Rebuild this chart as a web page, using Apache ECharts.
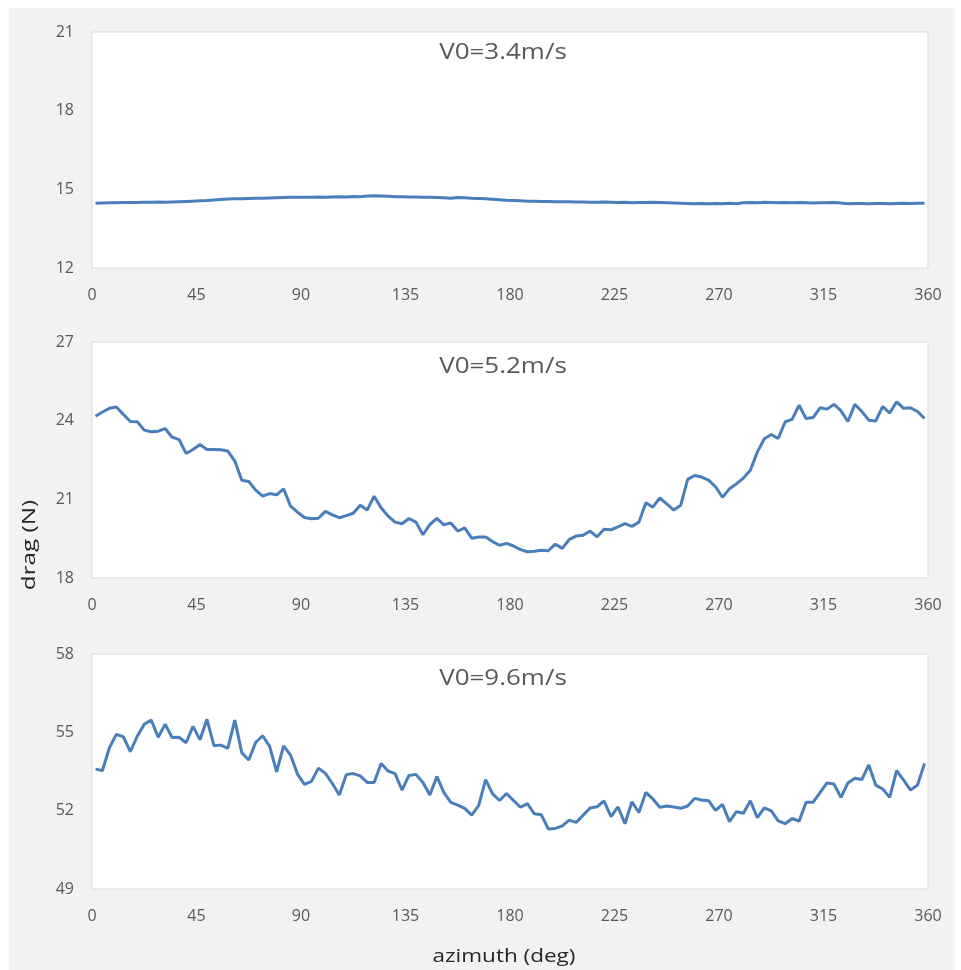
<!DOCTYPE html>
<html>
<head>
<meta charset="utf-8">
<script src="https://cdn.jsdelivr.net/npm/echarts@6/dist/echarts.min.js"></script>
<style>
  html, body { margin: 0; padding: 0; background: #ffffff; }
  #chart { position: absolute; left: 9px; top: 8px; width: 946px; height: 962px; }
</style>
</head>
<body>
<div id="chart"></div>
<script>
// azimuth (deg) of each sample
const azimuth = [
  1.5,4.5,7.5,10.5,13.5,16.5,19.5,22.5,25.5,28.5,
  31.5,34.5,37.5,40.5,43.5,46.5,49.5,52.5,55.5,58.5,
  61.5,64.5,67.5,70.5,73.5,76.5,79.5,82.5,85.5,88.5,
  91.5,94.5,97.5,100.5,103.5,106.5,109.5,112.5,115.5,118.5,
  121.5,124.5,127.5,130.5,133.5,136.5,139.5,142.5,145.5,148.5,
  151.5,154.5,157.5,160.5,163.5,166.5,169.5,172.5,175.5,178.5,
  181.5,184.5,187.5,190.5,193.5,196.5,199.5,202.5,205.5,208.5,
  211.5,214.5,217.5,220.5,223.5,226.5,229.5,232.5,235.5,238.5,
  241.5,244.5,247.5,250.5,253.5,256.5,259.5,262.5,265.5,268.5,
  271.5,274.5,277.5,280.5,283.5,286.5,289.5,292.5,295.5,298.5,
  301.5,304.5,307.5,310.5,313.5,316.5,319.5,322.5,325.5,328.5,
  331.5,334.5,337.5,340.5,343.5,346.5,349.5,352.5,355.5,358.5
];

// drag (N), V0 = 3.4 m/s
const drag34 = [
  14.47,14.48,14.49,14.49,14.50,14.50,14.50,14.51,14.51,14.52,
  14.51,14.52,14.53,14.54,14.55,14.56,14.57,14.59,14.61,14.63,
  14.64,14.64,14.65,14.66,14.66,14.67,14.68,14.69,14.70,14.70,
  14.70,14.70,14.71,14.70,14.71,14.72,14.71,14.73,14.72,14.75,
  14.76,14.75,14.74,14.72,14.72,14.71,14.71,14.70,14.70,14.69,
  14.68,14.66,14.69,14.68,14.66,14.65,14.64,14.62,14.60,14.58,
  14.57,14.56,14.55,14.55,14.54,14.54,14.53,14.53,14.53,14.52,
  14.52,14.51,14.51,14.52,14.51,14.50,14.51,14.49,14.50,14.50,
  14.51,14.50,14.49,14.48,14.47,14.46,14.45,14.46,14.45,14.46,
  14.45,14.47,14.45,14.49,14.50,14.49,14.51,14.50,14.49,14.50,
  14.49,14.50,14.49,14.48,14.49,14.49,14.50,14.48,14.45,14.46,
  14.46,14.45,14.46,14.46,14.45,14.46,14.47,14.46,14.47,14.47
];

// drag (N), V0 = 5.2 m/s
const drag52 = [
  24.17,24.33,24.47,24.52,24.24,23.97,23.96,23.64,23.58,23.60,
  23.70,23.37,23.28,22.75,22.90,23.09,22.90,22.90,22.89,22.84,
  22.46,21.73,21.68,21.35,21.12,21.22,21.17,21.40,20.74,20.51,
  20.31,20.26,20.28,20.54,20.41,20.30,20.38,20.47,20.77,20.59,
  21.12,20.68,20.36,20.13,20.07,20.27,20.13,19.65,20.04,20.27,
  20.03,20.10,19.79,19.91,19.52,19.56,19.56,19.39,19.25,19.32,
  19.22,19.08,19.00,19.02,19.06,19.04,19.29,19.13,19.47,19.60,
  19.63,19.79,19.57,19.86,19.84,19.95,20.07,19.97,20.13,20.87,
  20.70,21.05,20.83,20.59,20.77,21.76,21.91,21.85,21.73,21.48,
  21.08,21.40,21.59,21.81,22.11,22.80,23.31,23.47,23.32,23.96,
  24.05,24.59,24.08,24.12,24.49,24.44,24.62,24.38,23.97,24.62,
  24.35,24.02,23.99,24.54,24.29,24.72,24.47,24.49,24.35,24.08
];

// drag (N), V0 = 9.6 m/s
const drag96 = [
  53.59,53.54,54.41,54.92,54.83,54.26,54.85,55.31,55.47,54.81,
  55.31,54.80,54.81,54.60,55.23,54.72,55.50,54.49,54.51,54.39,
  55.47,54.22,53.94,54.62,54.87,54.46,53.49,54.48,54.13,53.40,
  53.01,53.12,53.63,53.43,53.04,52.60,53.38,53.42,53.33,53.08,
  53.08,53.81,53.52,53.42,52.79,53.35,53.39,53.08,52.60,53.31,
  52.70,52.32,52.21,52.09,51.83,52.19,53.19,52.64,52.39,52.66,
  52.39,52.13,52.27,51.88,51.84,51.30,51.32,51.42,51.64,51.55,
  51.83,52.10,52.15,52.37,51.77,52.15,51.50,52.34,51.93,52.70,
  52.45,52.13,52.18,52.14,52.09,52.18,52.47,52.41,52.38,52.01,
  52.24,51.58,51.96,51.90,52.38,51.73,52.11,51.99,51.61,51.50,
  51.70,51.60,52.32,52.32,52.69,53.06,53.02,52.51,53.06,53.24,
  53.19,53.75,52.98,52.83,52.51,53.53,53.17,52.79,52.98,53.81
];

const panelTitles = ['V0=3.4m/s', 'V0=5.2m/s', 'V0=9.6m/s'];
const yMins = [12, 18, 49];
const yMaxs = [21, 27, 58];
const yStep = 3;
const xTicks = [0, 360, 45]; // min, max, interval
const yAxisName = 'drag (N)';
const xAxisName = 'azimuth (deg)';

const series = [drag34, drag52, drag96];

const FONT = '"Open Sans", "Noto Sans", sans-serif';
const TXT = '#595959';
const LINE = '#4a7ebb';

const gridTops = [24, 334, 646];
const gridHeights = [236, 236, 235];
const titleY = [45, 359, 671];

const chart = echarts.init(document.getElementById('chart'), null, { renderer: 'canvas' });

const grids = [], xAxes = [], yAxes = [], ser = [], graphics = [];
for (let k = 0; k < 3; k++) {
  grids.push({
    left: 83, width: 836, top: gridTops[k], height: gridHeights[k],
    show: true, backgroundColor: '#ffffff', borderColor: '#d9d9d9', borderWidth: 1,
    containLabel: false
  });
  xAxes.push({
    type: 'value', gridIndex: k, min: xTicks[0], max: xTicks[1], interval: xTicks[2],
    axisLine: { show: false }, axisTick: { show: false }, splitLine: { show: false },
    axisLabel: { color: TXT, fontFamily: FONT, fontSize: 16, margin: 19 }
  });
  yAxes.push({
    type: 'value', gridIndex: k, min: yMins[k], max: yMaxs[k], interval: yStep,
    axisLine: { show: false }, axisTick: { show: false }, splitLine: { show: false },
    axisLabel: { color: TXT, fontFamily: FONT, fontSize: 16, margin: 18 }
  });
  ser.push({
    type: 'line', xAxisIndex: k, yAxisIndex: k,
    data: azimuth.map((a, i) => [a, series[k][i]]),
    showSymbol: false, symbol: 'none', smooth: false,
    lineStyle: { color: LINE, width: 3 },
    animation: false
  });
  graphics.push({
    type: 'text', x: 494, y: titleY[k], scaleX: 1.18,
    style: { text: panelTitles[k], fill: TXT, font: '22px ' + FONT, align: 'center', verticalAlign: 'middle' }
  });
}
graphics.push({
  type: 'text', x: 21, y: 537, rotation: Math.PI / 2, scaleX: 1.35,
  style: { text: yAxisName, fill: '#262626', font: '18px ' + FONT, align: 'center', verticalAlign: 'middle' }
});
graphics.push({
  type: 'text', x: 495, y: 949, scaleX: 1.25,
  style: { text: xAxisName, fill: '#262626', font: '18px ' + FONT, align: 'center', verticalAlign: 'middle' }
});

chart.setOption({
  backgroundColor: '#f2f2f2',
  animation: false,
  grid: grids,
  xAxis: xAxes,
  yAxis: yAxes,
  series: ser,
  graphic: graphics
});
</script>
</body>
</html>
